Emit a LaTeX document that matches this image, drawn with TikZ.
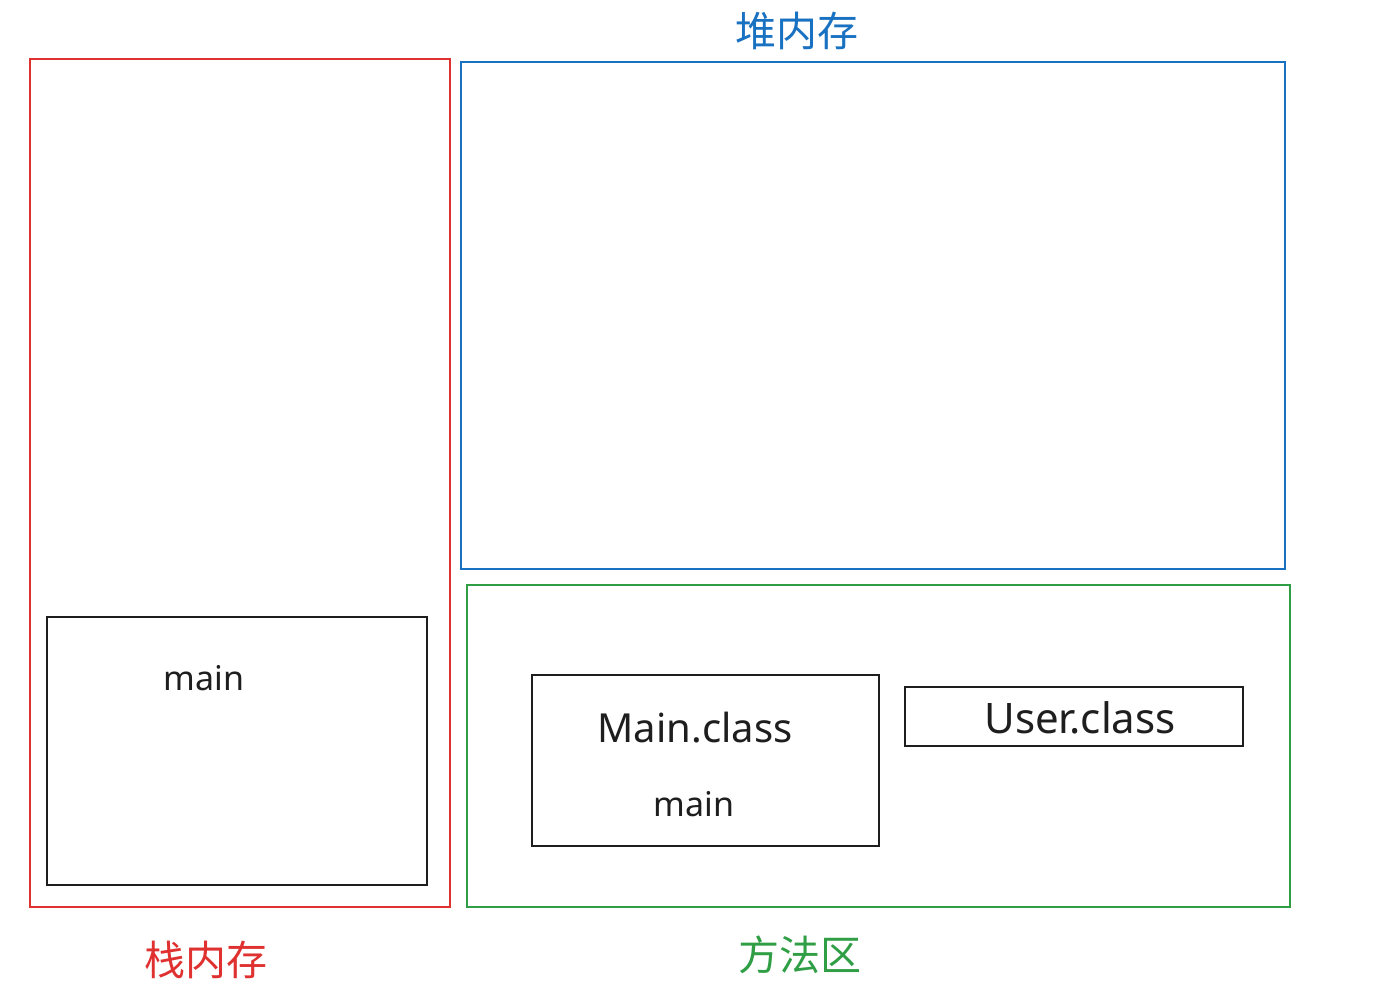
\documentclass[tikz,border=0pt]{standalone}
\usepackage{fontspec}
\setmainfont{Noto Sans}
\newfontfamily\cjk{Noto Sans CJK SC}
\definecolor{cred}{HTML}{E03131}
\definecolor{cblue}{HTML}{1971C2}
\definecolor{cgreen}{HTML}{2F9E44}
\definecolor{cink}{HTML}{1E1E1E}
\begin{document}
\begin{tikzpicture}[x=1pt,y=-1pt,
  region/.style={draw=#1,line width=2.8pt},
  inner/.style={draw=cink,line width=2.8pt},
  cnlabel/.style={text=#1,font=\cjk\fontsize{41}{43}\selectfont,inner sep=0pt},
  hand/.style={text=cink,font=\fontsize{34}{36}\selectfont,inner sep=0pt}]
\useasboundingbox (0,0) rectangle (1388,987);
\fill[white] (0,0) rectangle (1388,987);
% regions
\draw[region=cred] (30,59) rectangle (450,907);
\draw[region=cblue] (461,62) rectangle (1285,569);
\draw[region=cgreen] (467,585) rectangle (1290,907);
% inner boxes
\draw[inner] (47,617) rectangle (427,885);
\draw[inner] (532,675) rectangle (879,846);
\draw[inner] (905,687) rectangle (1243,746);
% labels
\node[cnlabel=cblue] (heap) at (797,31) {堆内存};
\node[cnlabel=cred] (stack) at (206,960) {栈内存};
\node[cnlabel=cgreen] (method) at (800,955) {方法区};
\node[hand] (smain) at (204,678) {main};
\node[hand,font=\fontsize{40}{42}\selectfont] (mainclass) at (695,728) {Main.class};
\node[hand] (mmain) at (694,804) {main};
\node[hand,font=\fontsize{42}{44}\selectfont] (userclass) at (1080,718) {User.class};
\end{tikzpicture}
\end{document}
